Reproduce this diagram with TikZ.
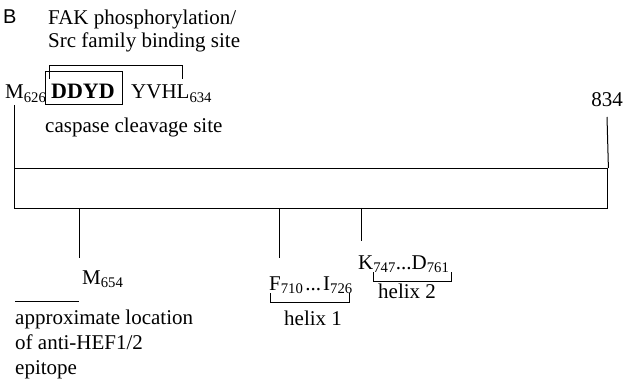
\documentclass[tikz,border=0pt]{standalone}
\usepackage{fontspec}
\setmainfont{Liberation Serif}
\newfontfamily\labsans{Liberation Sans}
\tikzset{
  lbl/.style={anchor=base west, inner sep=0pt, font=\fontsize{21}{24}\selectfont},
  ln/.style={line width=1pt, black},
  boxln/.style={line width=1.4pt, black}
}
\begin{document}
\begin{tikzpicture}[x=1pt,y=-1pt]
\useasboundingbox (0,0) rectangle (636,387);
% panel letter
\node[lbl, font=\labsans\fontsize{20}{22}\selectfont] (B) at (3,24) {B};
% top labels
\node[lbl] (fak) at (48,25) {FAK phosphorylation/};
\node[lbl] (src) at (48,48) {Src family binding site};
% bracket over DDYD YVHL
\coordinate (bl) at (49,79);
\coordinate (br) at (182,79);
\draw[ln] (bl) -- (49,66) -- (182,66) -- (br);
% sequence
\node[lbl] (m626) at (5,99) {M\textsubscript{626}};
\node[lbl, font=\bfseries\fontsize{22}{24}\selectfont] (ddyd) at (51,99) {DDYD};
\node[draw, line width=1pt, inner sep=0pt, minimum width=77pt, minimum height=33pt, anchor=north west] (ddbox) at (45,71) {};
\node[lbl] (yvhl) at (131,99) {YVHL\textsubscript{634}};
\node[lbl] (casp) at (45,133) {caspase cleavage site};
\node[lbl, anchor=base] (c834) at (607,107) {834};
% protein bar
\node[draw, boxln, inner sep=0pt, minimum width=593pt, minimum height=40pt, anchor=north west] (bar) at (14,168) {};
% end lines
\coordinate (lt) at (14,105);
\coordinate (rt) at (607,117);
\draw[ln] (lt) -- (bar.north west);
\draw[ln] (rt) -- (bar.north east);
% ticks below
\coordinate (t1) at (79,208);
\coordinate (t1e) at (79,258);
\coordinate (t2) at (279,208);
\coordinate (t2e) at (279,258);
\coordinate (t3) at (361,208);
\coordinate (t3e) at (361,241);
\draw[ln] (t1) -- (t1e);
\draw[ln] (t2) -- (t2e);
\draw[ln] (t3) -- (t3e);
% labels below
\node[lbl] (m654) at (82,284) {M\textsubscript{654}};
\node[lbl] (f710) at (269,290) {F\textsubscript{710}\kern2pt...\kern2pt I\textsubscript{726}};
\node[lbl] (k747) at (358,269) {K\textsubscript{747}...D\textsubscript{761}};
% helix brackets
\draw[ln] (270,293) -- (270,302) -- (349,302) -- (349,293);
\draw[ln] (373,272) -- (373,281) -- (451,281) -- (451,272);
\node[lbl] (h1) at (284,325) {helix 1};
\node[lbl] (h2) at (378,298) {helix 2};
% epitope legend
\coordinate (ea) at (15,301);
\coordinate (eb) at (79,301);
\draw[ln] (ea) -- (eb);
\node[lbl] (ep1) at (15,324) {approximate location};
\node[lbl] (ep2) at (15,349) {of anti-HEF1/2};
\node[lbl] (ep3) at (15,374) {epitope};
\end{tikzpicture}
\end{document}
